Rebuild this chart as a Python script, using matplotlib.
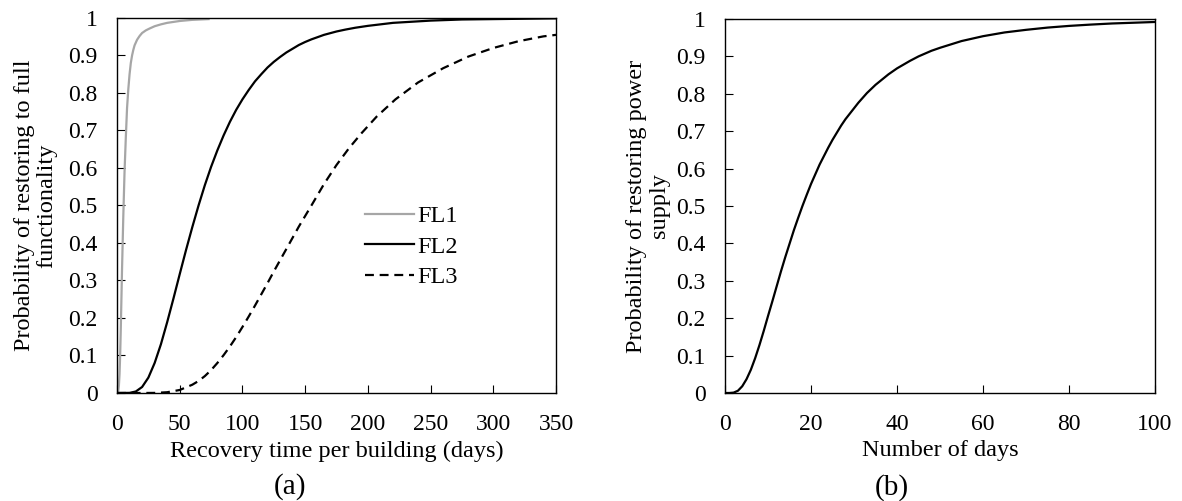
import matplotlib
matplotlib.use("Agg")
import matplotlib.pyplot as plt

# values
fl1_days = [0, 1, 1.5, 2, 2.5, 3, 3.5, 4, 5, 6, 7, 8, 9, 10, 11, 12, 13, 14, 16, 18,
            20, 23, 26, 30, 35, 40, 50, 60, 73]
fl1_prob = [0, 0.005, 0.02, 0.05, 0.1, 0.17, 0.25, 0.33, 0.47, 0.59, 0.68, 0.76, 0.81,
            0.85, 0.88, 0.90, 0.915, 0.927, 0.942, 0.952, 0.96, 0.967, 0.972, 0.978,
            0.983, 0.987, 0.992, 0.995, 0.997]

fl2_days = [0, 10, 15, 20, 25, 30, 35, 40, 45, 50, 55, 60, 65, 70, 75, 80, 85, 90, 95,
            100, 105, 110, 115, 120, 125, 130, 135, 140, 145, 150, 155, 160, 165, 175,
            182, 190, 200, 210, 220, 230, 240, 250, 275, 300, 350]
fl2_prob = [0, 0.0003, 0.004, 0.016, 0.041, 0.080, 0.130, 0.189, 0.252, 0.317, 0.381,
            0.442, 0.5, 0.554, 0.603, 0.647, 0.687, 0.723, 0.755, 0.783, 0.808, 0.831,
            0.850, 0.868, 0.883, 0.896, 0.908, 0.918, 0.928, 0.936, 0.943, 0.949, 0.955,
            0.964, 0.969, 0.974, 0.979, 0.983, 0.987, 0.989, 0.991, 0.993, 0.996, 0.997,
            0.999]

fl3_days = [0, 20, 30, 40, 50, 60, 65, 70, 75, 80, 85, 90, 95, 100, 105, 110, 115, 120,
            125, 130, 135, 140, 145, 150, 155, 165, 175, 185, 195, 207, 222, 240, 260,
            280, 300, 320, 340, 350]
fl3_prob = [0, 0, 0.0002, 0.002, 0.008, 0.022, 0.032, 0.045, 0.061, 0.080, 0.101, 0.124,
            0.149, 0.176, 0.204, 0.233, 0.263, 0.293, 0.324, 0.354, 0.384, 0.414, 0.444,
            0.472, 0.5, 0.557, 0.608, 0.653, 0.693, 0.737, 0.783, 0.828, 0.866, 0.897,
            0.920, 0.938, 0.951, 0.955]

power_days = [0, 1, 2, 3, 4, 5, 6, 7, 8, 9, 10, 11, 12, 13, 14, 15, 16, 17, 18, 19, 20,
              22, 24, 25, 27, 28, 31, 33, 35, 38, 40, 43, 45, 48, 50, 55, 60, 65, 70, 75,
              80, 85, 90, 95, 100]
power_prob = [0, 0, 0.001, 0.006, 0.018, 0.037, 0.062, 0.093, 0.128, 0.166, 0.206, 0.245,
              0.285, 0.325, 0.363, 0.399, 0.435, 0.468, 0.5, 0.530, 0.559, 0.611, 0.656,
              0.677, 0.715, 0.732, 0.776, 0.802, 0.824, 0.852, 0.868, 0.888, 0.900, 0.915,
              0.923, 0.941, 0.954, 0.964, 0.971, 0.977, 0.9815, 0.985, 0.988, 0.990, 0.992]

prob_ticks = [0, 0.1, 0.2, 0.3, 0.4, 0.5, 0.6, 0.7, 0.8, 0.9, 1]
prob_labels = ["0", "0.1", "0.2", "0.3", "0.4", "0.5", "0.6", "0.7", "0.8", "0.9", "1"]

plt.rcParams["font.family"] = ["Liberation Serif", "DejaVu Serif"]
plt.rcParams["font.size"] = 17.5

fig = plt.figure(figsize=(11.82, 5.01), dpi=100)
ax1 = fig.add_axes([0.099, 0.2156, 0.3714, 0.7485])
ax2 = fig.add_axes([0.6134, 0.2156, 0.3638, 0.7465])

ax1.plot(fl1_days, fl1_prob, color="#a6a6a6", lw=1.6, label="FL1")
ax1.plot(fl2_days, fl2_prob, color="black", lw=1.6, label="FL2")
ax1.plot(fl3_days, fl3_prob, color="black", lw=1.6, dashes=(4, 2.6), label="FL3")
ax1.set_xlim(0, 350)
ax1.set_xticks(range(0, 351, 50))
ax1.set_xlabel("Recovery time per building (days)", labelpad=4)
ax1.set_ylabel("Probability of restoring to full\nfunctionality", linespacing=1.1)
ax1.yaxis.set_label_coords(-0.135, 0.5)
ax1.legend(loc="center left", bbox_to_anchor=(0.565, 0.39), frameon=False,
           handlelength=2.0, handletextpad=0.15, labelspacing=0.34,
           borderpad=0, borderaxespad=0)

ax2.plot(power_days, power_prob, color="black", lw=1.6)
ax2.set_xlim(0, 100)
ax2.set_xticks(range(0, 101, 20))
ax2.set_xlabel("Number of days", labelpad=4)
ax2.set_ylabel("Probability of restoring power\nsupply", linespacing=1.1)
ax2.yaxis.set_label_coords(-0.128, 0.5)

for ax in (ax1, ax2):
    ax.set_ylim(0, 1)
    ax.set_yticks(prob_ticks)
    ax.set_yticklabels(prob_labels)
    ax.tick_params(direction="in", length=6, width=0.8, labelsize=17)
    ax.tick_params(axis="x", pad=15)
    ax.tick_params(axis="y", pad=14)
    for s in ax.spines.values():
        s.set_linewidth(1.0)

fig.text(290 / 1182, 1 - 487 / 501, "(a)", ha="center", va="center", fontsize=21)
fig.text(892 / 1182, 1 - 488 / 501, "(b)", ha="center", va="center", fontsize=21)

fig.savefig("out.png", dpi=100)
